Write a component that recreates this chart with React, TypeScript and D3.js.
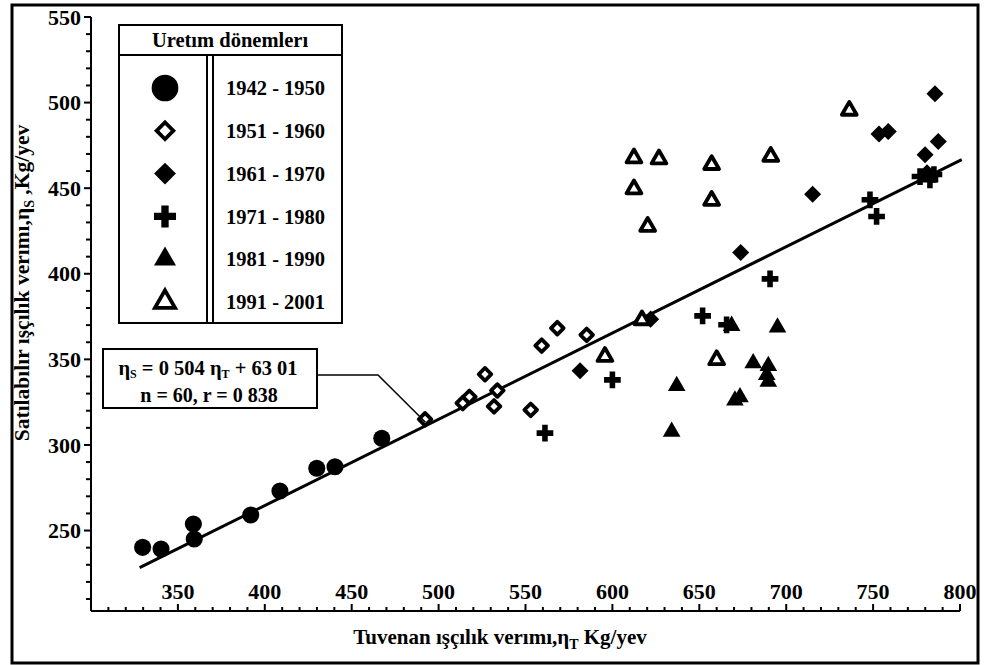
import React, { useEffect, useRef } from "react";
import * as d3 from "d3";

// tick labels
const xTicks = [350, 400, 450, 500, 550, 600, 650, 700, 750, 800];
const yTicks = [250, 300, 350, 400, 450, 500, 550];

const periods = ["1942 - 1950", "1951 - 1960", "1961 - 1970", "1971 - 1980", "1981 - 1990", "1991 - 2001"];

// [tuvenan, satilabilir] pairs
const p1942 = [[329.7, 240.2], [340.3, 239.2], [358.9, 253.8], [359.4, 245.1], [391.9, 259.1], [408.7, 273.1], [429.9, 286.4], [440.4, 287.3], [467.3, 303.9]];
const p1951 = [[492.2, 315], [513.9, 324.4], [517.7, 328.1], [526.7, 341.3], [531.9, 322.5], [533.8, 331.8], [553, 320.5], [559.3, 358], [568.3, 368.2], [585.2, 364.3]];
const p1961 = [[581.4, 343.4], [622, 373.5], [673.8, 412.4], [715.2, 446.5], [753.4, 481.6], [758.7, 483.1], [779.9, 469.5], [781, 459], [785.6, 505.2], [787.5, 477.3]];
const p1971 = [[561.2, 306.9], [600, 338], [651.9, 375.4], [665.7, 370.2], [690.7, 397], [748.2, 443.2], [752, 433.5], [777, 456.8], [782.7, 454.9], [785, 458]];
const p1981 = [[634.1, 307.8], [637, 334.5], [668.6, 369.6], [670.5, 326], [673.4, 327.9], [681, 347.8], [688.8, 340.9], [689.7, 337], [689.7, 346.2], [695, 368.6]];
const p1991 = [[595.7, 351.6], [612.4, 467.6], [612.4, 449.5], [617, 373], [620.3, 427.6], [626.8, 467], [657.1, 463.7], [657.1, 442.8], [660, 349.7], [691.1, 468.5], [736.3, 495.4]];

// regression  ηS = 0.504 ηT + 63.01
const slope = 0.504;
const intercept = 63.01;
const lineRange = [328, 801];

const FONT = "'Liberation Serif', 'Times New Roman', serif";

function App() {
  const ref = useRef<SVGSVGElement>(null);

  useEffect(() => {
    const svg = d3.select(ref.current);
    svg.selectAll("*").remove();

    const x = d3.scaleLinear().domain([300, 800]).range([91, 960]);
    const y = d3.scaleLinear().domain([203, 550]).range([611, 17]);

    // outer frame
    svg.append("rect")
      .attr("x", 12).attr("y", 5).attr("width", 966).attr("height", 658)
      .attr("fill", "none").attr("stroke", "#000").attr("stroke-width", 3);

    const g = svg.append("g").attr("font-family", FONT).attr("font-weight", "bold");

    // y axis
    g.append("line").attr("x1", 91).attr("x2", 91).attr("y1", y(550)).attr("y2", 611)
      .attr("stroke", "#000").attr("stroke-width", 2);
    d3.range(210, 551, 10).forEach(v => {
      const major = v % 50 === 0;
      g.append("line").attr("x1", 91).attr("x2", major ? 84 : 86)
        .attr("y1", y(v)).attr("y2", y(v)).attr("stroke", "#000").attr("stroke-width", 2);
    });
    yTicks.forEach(v => {
      g.append("text").attr("x", 81).attr("y", y(v)).attr("dy", "0.35em")
        .attr("text-anchor", "end").attr("font-size", 22).text(v);
    });

    // x axis, ticks pointing up, labels inside
    g.append("line").attr("x1", 91).attr("x2", 960).attr("y1", 611).attr("y2", 611)
      .attr("stroke", "#000").attr("stroke-width", 2);
    d3.range(310, 801, 10).forEach(v => {
      const major = v % 50 === 0;
      g.append("line").attr("x1", x(v)).attr("x2", x(v))
        .attr("y1", 611).attr("y2", major ? 604 : 607).attr("stroke", "#000").attr("stroke-width", 2);
    });
    xTicks.forEach(v => {
      g.append("text").attr("x", x(v)).attr("y", 599)
        .attr("text-anchor", "middle").attr("font-size", 22).text(v);
    });

    // axis titles
    const xt = g.append("text").attr("x", 500).attr("y", 644).attr("text-anchor", "middle").attr("font-size", 21);
    xt.append("tspan").text("Tuvenan ışçılık verımı,η");
    xt.append("tspan").attr("dy", 5).attr("font-size", 14).text("T");
    xt.append("tspan").attr("dy", -5).text(" Kg/yev");

    const yt = g.append("text").attr("transform", "translate(29,283) rotate(-90)")
      .attr("text-anchor", "middle").attr("font-size", 21.5);
    yt.append("tspan").text("Satılabılır ışçılık verımı,η");
    yt.append("tspan").attr("dy", 5).attr("font-size", 14).text("S");
    yt.append("tspan").attr("dy", -5).text(" ,Kg/yev");

    // regression line
    g.append("line")
      .attr("x1", x(lineRange[0])).attr("y1", y(slope * lineRange[0] + intercept))
      .attr("x2", x(lineRange[1])).attr("y2", y(slope * lineRange[1] + intercept))
      .attr("stroke", "#000").attr("stroke-width", 3);

    // marker shapes
    const circle = d3.symbol().type(d3.symbolCircle).size(230);
    const diamondOpen = d3.symbol().type(d3.symbolSquare).size(80);
    const diamondFull = d3.symbol().type(d3.symbolSquare).size(145);
    const cross = d3.symbol().type(d3.symbolCross).size(155);
    const triFull = d3.symbol().type(d3.symbolTriangle).size(135);
    const triOpen = d3.symbol().type(d3.symbolTriangle).size(95);

    const styles = [
      { path: circle(), fill: "#000", stroke: "none", rot: 0, sw: 0 },
      { path: diamondOpen(), fill: "#fff", stroke: "#000", rot: 45, sw: 3.8 },
      { path: diamondFull(), fill: "#000", stroke: "none", rot: 45, sw: 0 },
      { path: cross(), fill: "#000", stroke: "none", rot: 0, sw: 0 },
      { path: triFull(), fill: "#000", stroke: "none", rot: 0, sw: 0 },
      { path: triOpen(), fill: "#fff", stroke: "#000", rot: 0, sw: 3.8 },
    ];
    const series = [p1942, p1951, p1961, p1971, p1981, p1991];

    series.forEach((pts, i) => {
      const s = styles[i];
      g.append("g").selectAll("path").data(pts).enter().append("path")
        .attr("d", s.path)
        .attr("transform", d => `translate(${x(d[0])},${y(d[1])}) rotate(${s.rot})`)
        .attr("fill", s.fill).attr("stroke", s.stroke).attr("stroke-width", s.sw)
        .attr("stroke-linejoin", "round");
    });

    // legend
    const lg = g.append("g");
    lg.append("rect").attr("x", 119).attr("y", 25).attr("width", 223).attr("height", 298)
      .attr("fill", "#fff").attr("stroke", "#000").attr("stroke-width", 2);
    lg.append("line").attr("x1", 119).attr("x2", 342).attr("y1", 55).attr("y2", 55)
      .attr("stroke", "#000").attr("stroke-width", 2);
    [207, 213].forEach(cx => {
      lg.append("line").attr("x1", cx).attr("x2", cx).attr("y1", 55).attr("y2", 323)
        .attr("stroke", "#000").attr("stroke-width", 2);
    });
    lg.append("text").attr("x", 230).attr("y", 47).attr("text-anchor", "middle")
      .attr("font-size", 20.5).text("Uretım dönemlerı");

    const legendSyms = [
      d3.symbol().type(d3.symbolCircle).size(560)(),
      d3.symbol().type(d3.symbolSquare).size(140)(),
      d3.symbol().type(d3.symbolSquare).size(240)(),
      d3.symbol().type(d3.symbolCross).size(270)(),
      d3.symbol().type(d3.symbolTriangle).size(210)(),
      d3.symbol().type(d3.symbolTriangle).size(175)(),
    ];
    periods.forEach((p, i) => {
      const cy = 88 + i * 42.8;
      const s = styles[i];
      lg.append("path").attr("d", legendSyms[i])
        .attr("transform", `translate(165,${cy}) rotate(${s.rot})`)
        .attr("fill", s.fill).attr("stroke", s.stroke).attr("stroke-width", s.sw);
      lg.append("text").attr("x", 226).attr("y", cy).attr("dy", "0.35em")
        .attr("font-size", 20.5).text(p);
    });

    // regression annotation box with leader line
    const tipX = 493;
    const tipY = y(slope * tipX + intercept);
    g.append("path")
      .attr("d", `M317,375 H378 L${x(tipX) - 1},${tipY - 3}`)
      .attr("fill", "none").attr("stroke", "#000").attr("stroke-width", 1.5);
    g.append("rect").attr("x", 103).attr("y", 349).attr("width", 214).attr("height", 59)
      .attr("fill", "#fff").attr("stroke", "#000").attr("stroke-width", 2);
    const eq = g.append("text").attr("x", 208).attr("y", 375).attr("text-anchor", "middle").attr("font-size", 20.5);
    eq.append("tspan").text("η");
    eq.append("tspan").attr("dy", 3).attr("font-size", 12).text("S");
    eq.append("tspan").attr("dy", -3).text(" = 0 504 η");
    eq.append("tspan").attr("dy", 3).attr("font-size", 12).text("T");
    eq.append("tspan").attr("dy", -3).text(" + 63 01");
    g.append("text").attr("x", 209).attr("y", 402).attr("text-anchor", "middle")
      .attr("font-size", 20).text("n = 60, r = 0 838");
  }, []);

  return (
    <div style={{ position: "absolute", left: 0, top: 0 }}>
      <svg ref={ref} width={999} height={665} style={{ display: "block", background: "#fff" }} />
    </div>
  );
}

export default App;
